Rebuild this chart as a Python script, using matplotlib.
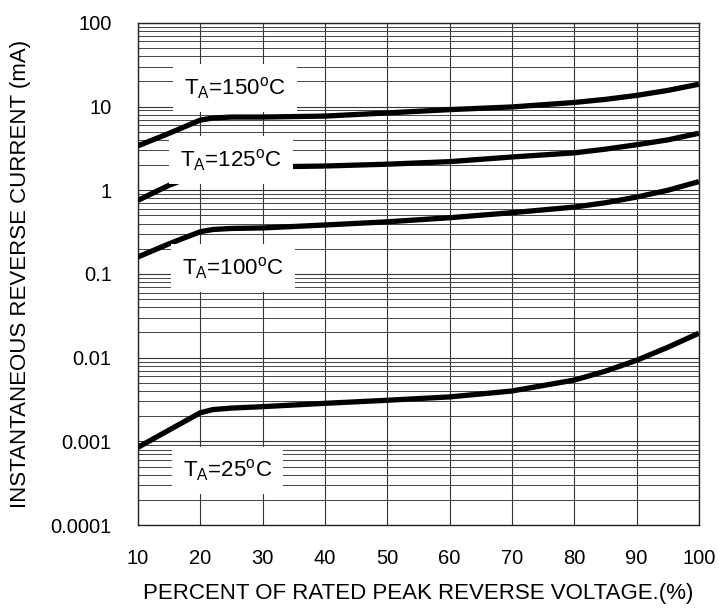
import matplotlib.pyplot as plt
import numpy as np

plt.rcParams['font.family'] = ['Liberation Sans', 'DejaVu Sans']
plt.rcParams['mathtext.fontset'] = 'custom'
plt.rcParams['mathtext.rm'] = 'Liberation Sans'
plt.rcParams['mathtext.it'] = 'Liberation Sans:italic'

# percent of rated peak reverse voltage
volt = [10, 15, 20, 22, 25, 30, 40, 50, 60, 70, 80, 85, 90, 95, 100]

# instantaneous reverse current (mA)
i150 = [3.4, 4.8, 6.9, 7.3, 7.5, 7.5, 7.7, 8.4, 9.2, 9.9, 11.2, 12.2, 13.6, 15.6, 18.5]
i125 = [0.76, 1.15, 1.6, 1.75, 1.85, 1.9, 1.95, 2.05, 2.2, 2.5, 2.8, 3.1, 3.5, 4.0, 4.8]
i100 = [0.16, 0.23, 0.32, 0.34, 0.35, 0.355, 0.385, 0.42, 0.47, 0.54, 0.63, 0.71, 0.83, 1.0, 1.27]
i25 = [0.00085, 0.00137, 0.0022, 0.0024, 0.0025, 0.0026, 0.00285, 0.0031, 0.0034, 0.0040, 0.0054, 0.0069, 0.0093, 0.0133, 0.0196]

labels = ['T$_\\mathrm{A}$=150$^\\mathrm{o}$C', 'T$_\\mathrm{A}$=125$^\\mathrm{o}$C',
          'T$_\\mathrm{A}$=100$^\\mathrm{o}$C', 'T$_\\mathrm{A}$=25$^\\mathrm{o}$C']
label_x = [25.6, 24.9, 25.2, 24.4]
label_y = [16.7, 2.3, 0.117, 0.00045]

xticks = [10, 20, 30, 40, 50, 60, 70, 80, 90, 100]
yticks = [0.0001, 0.001, 0.01, 0.1, 1, 10, 100]
yticklabels = ['0.0001', '0.001', '0.01', '0.1', '1', '10', '100']

fig = plt.figure(figsize=(7.19, 6.12), dpi=100)
ax = fig.add_axes([0.192, 0.142, 0.78, 0.8206])

ax.set_yscale('log')
ax.set_xlim(10, 100)
ax.set_ylim(0.0001, 100)

# grid
for xv in xticks:
    ax.axvline(xv, color='#333333', lw=0.8, zorder=1)
for dec in [0.0001, 0.001, 0.01, 0.1, 1, 10]:
    ax.axhline(dec, color='#333333', lw=0.8, zorder=1)
    for m in range(2, 10):
        ax.axhline(dec*m, color='#444444', lw=0.7, zorder=1)
ax.axhline(100, color='#333333', lw=0.8, zorder=1)

for cur in [i150, i125, i100, i25]:
    ax.plot(volt, cur, color='black', lw=3.8, solid_joinstyle='round', solid_capstyle='butt', zorder=3)

for t, lx, ly in zip(labels, label_x, label_y):
    ax.text(lx, ly, t, fontsize=16, ha='center', va='center', zorder=5,
            bbox=dict(boxstyle='square,pad=0.5', facecolor='white', edgecolor='none'))

ax.set_xticks(xticks)
ax.set_xticklabels([str(v) for v in xticks])
ax.set_yticks(yticks)
ax.set_yticklabels(yticklabels)
ax.minorticks_off()
ax.tick_params(length=0, labelsize=14.5)
ax.tick_params(axis='x', pad=17)
ax.tick_params(axis='y', pad=19)

for s in ax.spines.values():
    s.set_color('#222222')
    s.set_linewidth(1.0)

ax.set_xlabel('PERCENT OF RATED PEAK REVERSE VOLTAGE.(%)', fontsize=16, labelpad=11)
ax.set_ylabel('INSTANTANEOUS REVERSE CURRENT (mA)', fontsize=16, labelpad=14)

plt.savefig('out.png', dpi=100)
